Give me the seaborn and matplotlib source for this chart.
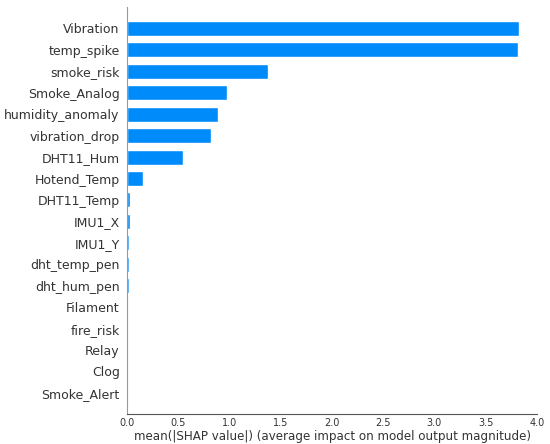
import pandas as pd
import matplotlib
matplotlib.use("Agg")
import matplotlib.pyplot as plt
import seaborn as sns

# feature names and mean |SHAP| values
features = ["Vibration", "temp_spike", "smoke_risk", "Smoke_Analog",
            "humidity_anomaly", "vibration_drop", "DHT11_Hum", "Hotend_Temp",
            "DHT11_Temp", "IMU1_X", "IMU1_Y", "dht_temp_pen", "dht_hum_pen",
            "Filament", "fire_risk", "Relay", "Clog", "Smoke_Alert"]
importance = [3.83, 3.82, 1.37, 0.97,
              0.89, 0.82, 0.547, 0.15,
              0.026, 0.025, 0.02, 0.02, 0.02,
              0.0, 0.0, 0.0, 0.0, 0.0]
xticks = [0.0, 0.5, 1.0, 1.5, 2.0, 2.5, 3.0, 3.5, 4.0]

df = pd.DataFrame({"feature": features, "value": importance})

sns.set_style("white")
plt.rcParams["font.family"] = ["DejaVu Sans"]

fig = plt.figure(figsize=(5.5, 4.44), dpi=100)
ax = fig.add_axes([0.2315, 0.0669, 0.7443, 0.9173])

sns.barplot(data=df, x="value", y="feature", orient="h", color="#008bfb",
            saturation=1, width=0.7, ax=ax)

ax.set_xlim(0, 4.0)
ax.set_ylim(len(features), -1)
ax.set_xticks(xticks)
ax.set_xticklabels([f"{t:.1f}" for t in xticks])
ax.set_xlabel("mean(|SHAP value|) (average impact on model output magnitude)",
              fontsize=8.6, color="#333333")
ax.xaxis.label.set_va("baseline")
ax.xaxis.set_label_coords(0.5, -0.0631)
ax.set_ylabel("")

ax.tick_params(axis="y", length=0, labelsize=9, labelcolor="#333333", pad=5.5)
ax.tick_params(axis="x", length=2.5, width=0.8, color="#555555",
               labelsize=7, labelcolor="#333333", pad=0.5)

for s in ["top", "right"]:
    ax.spines[s].set_visible(False)
ax.spines["left"].set_color("#999999")
ax.spines["bottom"].set_color("#555555")
ax.spines["left"].set_linewidth(0.8)
ax.spines["bottom"].set_linewidth(0.8)

fig.savefig("out.png", dpi=100)
